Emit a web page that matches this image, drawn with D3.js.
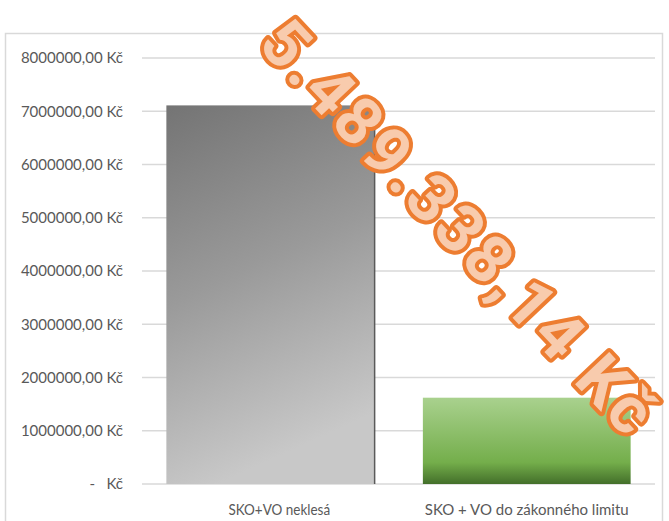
<!DOCTYPE html>
<html>
<head>
<meta charset="utf-8">
<script src="https://cdn.jsdelivr.net/npm/d3@7"></script>
<style>
body { margin: 0; background: #fff; }
</style>
</head>
<body>
<script>
var width = 669;
var height = 521;

var categories = ["SKO+VO neklesá", "SKO + VO do zákonného limitu"];
var values = [7110000, 1620662];
var tickValues = [0, 1000000, 2000000, 3000000, 4000000, 5000000, 6000000, 7000000, 8000000];
var tickLabels = ["-   Kč", "1000000,00 Kč", "2000000,00 Kč", "3000000,00 Kč", "4000000,00 Kč",
  "5000000,00 Kč", "6000000,00 Kč", "7000000,00 Kč", "8000000,00 Kč"];
var stamp = "5.489.338,14 Kč";

var font = "Lato, 'Open Sans', sans-serif";

var svg = d3.select("body").append("svg")
  .attr("width", width)
  .attr("height", height);

var defs = svg.append("defs");
var gGray = defs.append("linearGradient").attr("id", "gray")
  .attr("x1", 0).attr("y1", 0).attr("x2", 0.25).attr("y2", 1);
gGray.append("stop").attr("offset", 0).attr("stop-color", "#747474");
gGray.append("stop").attr("offset", 0.5).attr("stop-color", "#9a9a9a");
gGray.append("stop").attr("offset", 1).attr("stop-color", "#c8c8c8");

var gGreen = defs.append("linearGradient").attr("id", "green")
  .attr("x1", 0).attr("y1", 0).attr("x2", 0).attr("y2", 1);
gGreen.append("stop").attr("offset", 0).attr("stop-color", "#a9d18e");
gGreen.append("stop").attr("offset", 0.75).attr("stop-color", "#74ae4b");
gGreen.append("stop").attr("offset", 1).attr("stop-color", "#436f2a");

// chart border
svg.append("rect")
  .attr("x", 5.5).attr("y", 33.5)
  .attr("width", 657).attr("height", 520)
  .style("fill", "none")
  .style("stroke", "#d9d9d9")
  .style("stroke-width", 1.5);

var x = d3.scaleBand()
  .domain(categories)
  .range([142, 655])
  .paddingInner(0.19)
  .paddingOuter(0.095);

var y = d3.scaleLinear()
  .domain([0, 8000000])
  .range([484, 58]);

// gridlines
svg.append("g")
  .selectAll("line")
  .data(tickValues)
  .enter().append("line")
  .attr("x1", 142)
  .attr("x2", 655)
  .attr("y1", function(d) { return y(d); })
  .attr("y2", function(d) { return y(d); })
  .style("stroke", "#d9d9d9")
  .style("stroke-width", 1.5);

// y labels
svg.append("g")
  .selectAll("text")
  .data(tickValues)
  .enter().append("text")
  .attr("x", 123)
  .attr("y", function(d) { return y(d); })
  .attr("dy", "0.35em")
  .attr("text-anchor", "end")
  .style("font-family", font)
  .style("font-size", "15px")
  .style("white-space", "pre")
  .style("fill", "#595959")
  .text(function(d, i) { return tickLabels[i]; });

// bars
var fills = ["url(#gray)", "url(#green)"];
svg.append("g")
  .selectAll("rect")
  .data(values)
  .enter().append("rect")
  .attr("x", function(d, i) { return x(categories[i]); })
  .attr("y", function(d) { return y(d); })
  .attr("width", x.bandwidth())
  .attr("height", function(d) { return y(0) - y(d); })
  .style("fill", function(d, i) { return fills[i]; });

// shadow edge on gray bar
svg.append("line")
  .attr("x1", x(categories[0]) + x.bandwidth() + 0.5)
  .attr("x2", x(categories[0]) + x.bandwidth() + 0.5)
  .attr("y1", y(values[0]))
  .attr("y2", y(0))
  .style("stroke", "#5a5a5a")
  .style("stroke-width", 1.5);

// category labels (narrow, like the original font)
svg.append("g")
  .selectAll("text")
  .data(categories)
  .enter().append("text")
  .attr("transform", function(d, i) {
    var cx = x(d) + x.bandwidth() / 2 + (i == 0 ? 9 : 0);
    return "translate(" + cx + ",510) scale(" + (i == 0 ? 0.9 : 1) + ",1)";
  })
  .attr("dy", "0.35em")
  .attr("text-anchor", "middle")
  .style("font-family", font)
  .style("font-size", "15px")
  .style("fill", "#595959")
  .text(function(d) { return d; });

// big rotated stamp
svg.append("text")
  .attr("transform", "translate(273,30) rotate(46.7)")
  .attr("dy", "0.35em")
  .attr("textLength", 540)
  .attr("lengthAdjust", "spacing")
  .style("font-family", "Roboto, 'DejaVu Sans', sans-serif")
  .style("font-weight", 700)
  .style("font-size", "66px")
  .style("fill", "#f8cbad")
  .style("stroke", "#ed7d31")
  .style("stroke-width", 8)
  .style("stroke-linejoin", "round")
  .style("paint-order", "stroke")
  .text(stamp);
</script>
</body>
</html>
